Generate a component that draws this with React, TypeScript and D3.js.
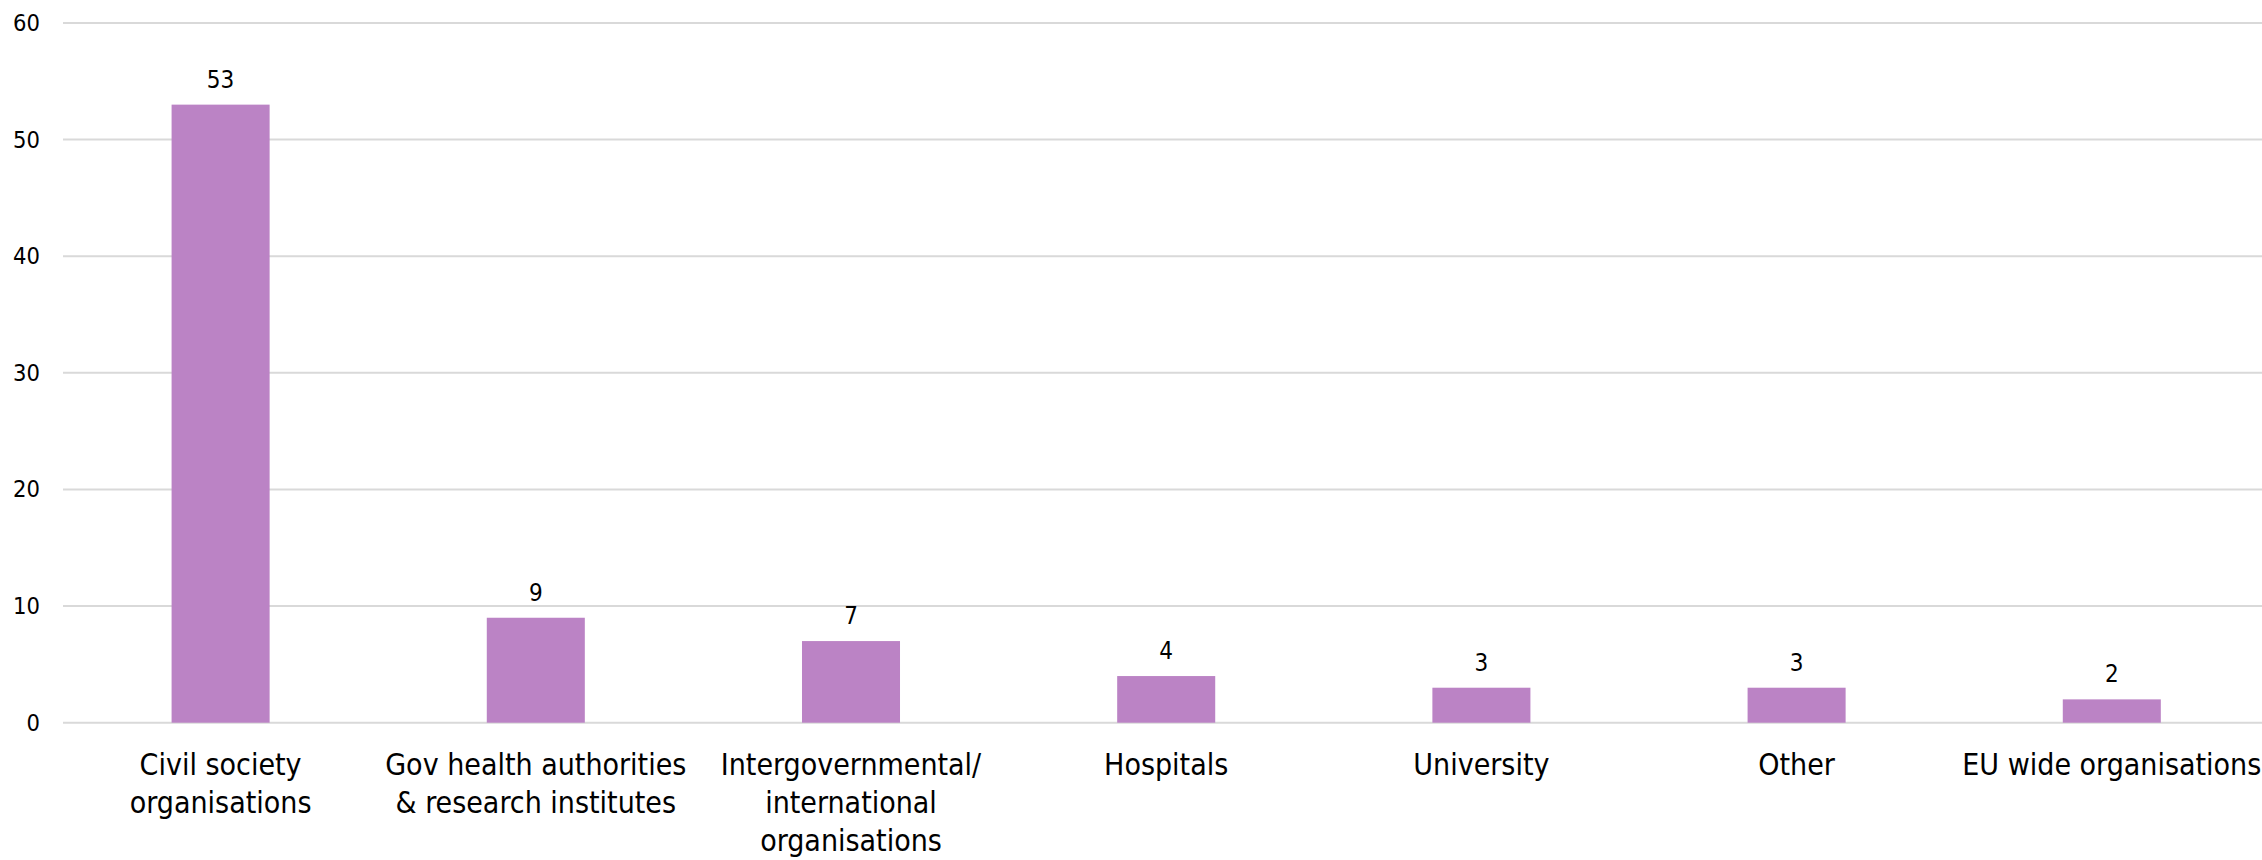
import React from "react";
import * as d3 from "d3";

// Number of organisations by type
const categories: string[][] = [
  ["Civil society", "organisations"],
  ["Gov health authorities", "& research institutes"],
  ["Intergovernmental/", "international", "organisations"],
  ["Hospitals"],
  ["University"],
  ["Other"],
  ["EU wide organisations"],
];
const counts: number[] = [53, 9, 7, 4, 3, 3, 2];
const yTicks: number[] = [0, 10, 20, 30, 40, 50, 60];

const WIDTH = 2262;
const HEIGHT = 860;
const FONT = "'DejaVu Sans Condensed', 'DejaVu Sans', sans-serif";
const BAR_COLOR = "#bb83c5";
const GRID_COLOR = "#d9d9d9";

export default function App() {
  const keys = categories.map((c) => c.join(" "));
  const plotLeft = 63;
  const step = 315.2;
  const x = d3
    .scaleBand<string>()
    .domain(keys)
    .range([plotLeft, plotLeft + step * keys.length])
    .paddingInner(0.689)
    .paddingOuter(0.3445);
  const y = d3.scaleLinear().domain([0, 60]).range([722.7, 23]);

  return (
    <svg
      width={WIDTH}
      height={HEIGHT}
      style={{ position: "absolute", left: 0, top: 0, background: "#fff" }}
      fontFamily={FONT}
    >
      {yTicks.map((t) => (
        <g key={t}>
          <line
            x1={plotLeft}
            x2={WIDTH}
            y1={y(t)}
            y2={y(t)}
            stroke={GRID_COLOR}
            strokeWidth={2}
          />
          <text
            x={40}
            y={y(t)}
            textAnchor="end"
            dominantBaseline="central"
            fontSize={23.5}
            fill="#000"
          >
            {t}
          </text>
        </g>
      ))}
      {keys.map((k, i) => {
        const bx = x(k)!;
        const bw = x.bandwidth();
        const cx = bx + bw / 2;
        return (
          <g key={k}>
            <rect
              x={bx}
              y={y(counts[i])}
              width={bw}
              height={y(0) - y(counts[i])}
              fill={BAR_COLOR}
            />
            <text
              x={cx}
              y={y(counts[i]) - 17}
              textAnchor="middle"
              fontSize={24}
              fill="#000"
            >
              {counts[i]}
            </text>
            {categories[i].map((line, j) => (
              <text
                key={j}
                x={cx}
                y={775 + j * 38}
                textAnchor="middle"
                fontSize={30}
                fill="#000"
              >
                {line}
              </text>
            ))}
          </g>
        );
      })}
    </svg>
  );
}
